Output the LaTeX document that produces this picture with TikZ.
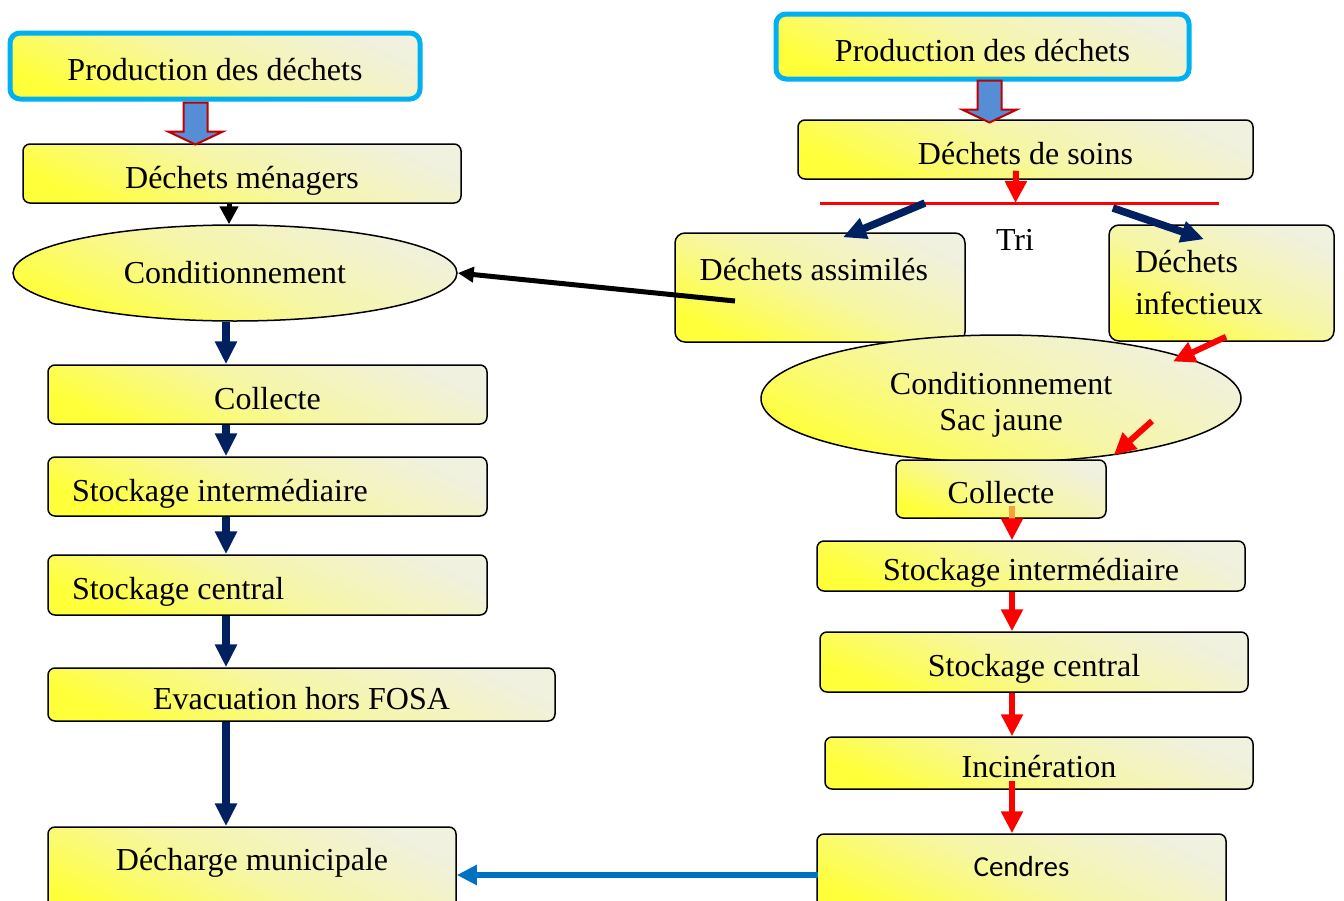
\documentclass[tikz,border=0pt]{standalone}
\usepackage{fontspec}
\setmainfont{Liberation Serif}
\newfontfamily\policecendres{Carlito}
\usetikzlibrary{arrows.meta,shapes.geometric,calc}

\definecolor{jauneVif}{HTML}{FFFF3A}
\definecolor{jauneMoyen}{HTML}{F6F6A6}
\definecolor{jaunePale}{HTML}{F0F1DE}
\definecolor{cyanVif}{HTML}{00B0F0}
\definecolor{marineF}{HTML}{002060}
\definecolor{bleuF}{HTML}{0070C0}
\definecolor{rougeF}{HTML}{FF0000}
\definecolor{rougeSombre}{HTML}{C00000}
\definecolor{bleuCreux}{HTML}{558ED5}
\definecolor{orangeF}{HTML}{F4A340}

\newcommand{\flechecreuse}[1]{%
  \draw[creuse] #1 ++(-12,0) -- ++(24,0) -- ++(0,29) -- ++(15.5,0)
    -- ++(-27.5,13) -- ++(-27.5,-13) -- ++(15.5,0) -- cycle;}
\newcommand{\agauche}[1]{\makebox[195.5pt][l]{#1}}

\begin{document}
\begin{tikzpicture}[x=0.5pt,y=-0.5pt,font=\fontsize{16}{19}\selectfont]
  \tikzstyle{fond}=[draw,line width=0.75pt,inner sep=0pt,
                    top color=jaunePale,bottom color=jauneVif,middle color=jauneMoyen,shading angle=-25]
  \tikzstyle{etape}=[fond,rounded corners=3.5pt,text height=14.5pt,text depth=0pt]
  \tikzstyle{cadre}=[draw=cyanVif,line width=2.5pt,rounded corners=5pt]
  \tikzstyle{bulle}=[fond,ellipse]
  \tikzstyle{gauche}=[inner xsep=12pt]
  \tikzstyle{creuse}=[fill=bleuCreux,draw=rougeSombre,line width=1pt]
  \tikzstyle{marine}=[draw=marineF,line width=3.75pt,-{Triangle[length=11.5pt,width=10.5pt]}]
  \tikzstyle{rouge}=[draw=rougeF,line width=3pt,-{Triangle[length=11pt,width=10.5pt]}]
  \tikzstyle{noire}=[draw=black,line width=2.5pt,-{Triangle[length=9pt,width=9pt]}]
  \tikzstyle{bleue}=[draw=bleuF,line width=3pt,-{Triangle[length=10pt,width=9.5pt]}]
  \tikzstyle{trait}=[draw=rougeF,line width=1.5pt]

  \useasboundingbox (0,0) rectangle (1344,900);

  % dechets menagers
  \node[etape,cadre,minimum width=205pt,minimum height=33pt] (prodM) at (215,66) {Production des déchets};
  \node[etape,minimum width=219pt,minimum height=29.5pt] (menag) at (242,173.5) {Déchets ménagers};
  \node[bulle,minimum width=222pt,minimum height=48pt] (condM) at (235,273) {Conditionnement};
  \node[etape,minimum width=219.5pt,minimum height=29.5pt] (collM) at (267.5,394.5) {Collecte};
  \node[etape,gauche,minimum height=29.5pt] (stockIM) at (267.5,486.5) {\agauche{Stockage intermédiaire}};
  \node[etape,gauche,minimum height=30pt] (stockCM) at (267.5,585) {\agauche{Stockage central}};
  \node[etape,minimum width=253.5pt,minimum height=26.5pt] (evac) at (301.5,694.5) {Evacuation hors FOSA};
  \node[etape,minimum width=204pt,minimum height=48pt,text height=11pt,text depth=16pt] (decharge) at (252,875) {Décharge municipale};

  % dechets de soins
  \node[etape,cadre,minimum width=206.5pt,minimum height=32.5pt] (prodS) at (982.5,46.5) {Production des déchets};
  \node[etape,minimum width=227.5pt,minimum height=29.5pt] (soins) at (1025.5,149.5) {Déchets de soins};
  \node[fond,rounded corners=5pt,minimum width=145pt,minimum height=54.5pt,
        label={[anchor=north west,inner sep=0pt,xshift=12.5pt,yshift=-13pt]north west:Déchets assimilés}] (assim) at (820,287.5) {};
  \node[fond,rounded corners=5pt,align=left,text width=86.5pt,inner xsep=13pt,minimum height=58pt,
        font=\fontsize{16}{21}\selectfont] (infect) at (1221.5,283) {Déchets\\infectieux};
  \node[bulle,minimum width=240pt,minimum height=63.5pt,
        label={[align=center,yshift=-3pt,font=\fontsize{16}{18}\selectfont]center:Conditionnement\\Sac jaune}] (condS) at (1001,398.5) {};
  \node[etape,minimum width=105pt,minimum height=29pt] (collS) at (1001,489) {Collecte};
  \node[etape,minimum width=214pt,minimum height=25pt] (stockIS) at (1031,566) {Stockage intermédiaire};
  \node[etape,minimum width=214pt,minimum height=30pt] (stockCS) at (1034,662) {Stockage central};
  \node[etape,minimum width=214pt,minimum height=26pt] (incin) at (1039,763) {Incinération};
  \node[etape,minimum width=204.5pt,minimum height=41pt,text height=10pt,text depth=9pt,
        font=\policecendres\fontsize{14.5}{17}\selectfont] (cendres) at (1021.5,875) {Cendres};

  \coordinate (triG) at (820,203);
  \coordinate (triD) at (1219,203);
  \node (tri) at (1015,240) {Tri};
  \coordinate (axeM) at (226,0);
  \coordinate (axeS) at (1012,0);

  % fleches colonne gauche
  \flechecreuse{($(prodM.south)+(-19.5,1)$)}
  \draw[noire] ($(menag.south)+(-13,0)$) -- ($(condM.north)+(-6,0)$);
  \foreach \a/\b in {condM/collM,collM/stockIM,stockIM/stockCM,stockCM/evac,evac/decharge}
    \draw[marine] (\a.south -| axeM) -- (\b.north -| axeM);

  % fleches colonne droite
  \flechecreuse{($(prodS.south)+(7,-1)$)}
  \draw[trait] (triG) -- (triD);
  \draw[rouge] ($(soins.south)+(-9.5,-9)$) -- ($(triG)!0.49!(triD)$);
  \draw[marine] ($(triG)!0.263!(triD)$) -- ($(assim.north)+(23,5)$);
  \draw[marine] ($(triG)!0.734!(triD)+(0,5)$) -- ($(infect.north)+(-17.5,15)$);
  \draw[noire,-{Triangle[length=8pt,width=7.5pt]}] ($(assim.center)+(-85,13.5)$) -- (condM.east);
  \draw[rouge] ($(infect.south)+(4.5,-5)$) -- ($(condS.center)+(172,-37)$);
  \draw[rouge] ($(condS.center)+(151,22.5)$) -- ($(collS.north east)+(7,-4)$);
  \draw[orangeF,line width=3pt] ($(collS.south -| axeS)+(0,-13)$) -- (collS.south -| axeS);
  \foreach \a/\b in {collS/stockIS,stockIS/stockCS,stockCS/incin}
    \draw[rouge] (\a.south -| axeS) -- (\b.north -| axeS);
  \draw[rouge] ($(incin.south -| axeS)+(0,-9)$) -- (cendres.north -| axeS);
  \draw[bleue] ($(cendres.west)+(2,0)$) -- (decharge.east);
\end{tikzpicture}
\end{document}
